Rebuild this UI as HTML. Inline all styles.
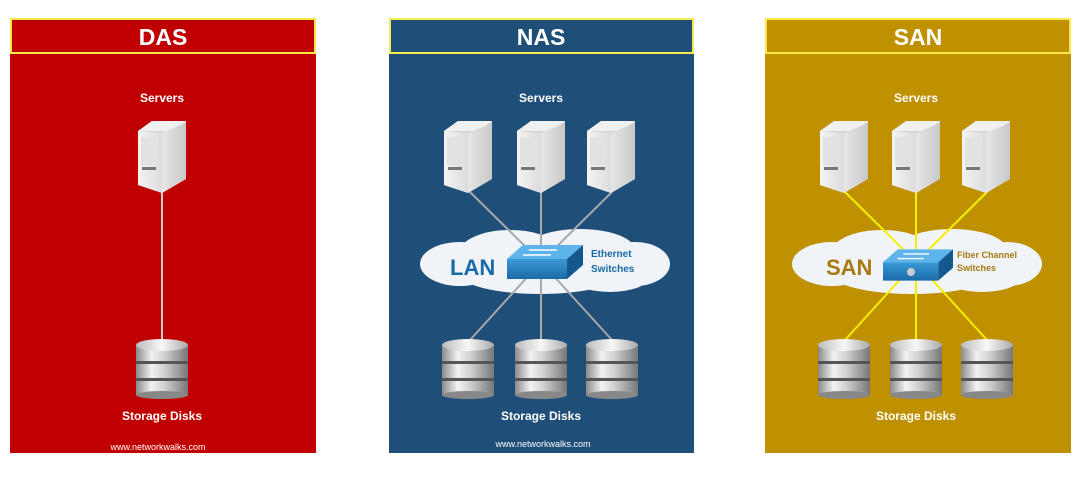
<!DOCTYPE html>
<html><head><meta charset="utf-8"><style>
html,body{margin:0;padding:0;background:#fff;width:1088px;height:482px;overflow:hidden}
svg text{font-family:"Liberation Sans",sans-serif}
</style></head><body>
<svg width="1088" height="482" viewBox="0 0 1088 482" xmlns="http://www.w3.org/2000/svg">
<defs>
<linearGradient id="sf" x1="0" x2="1"><stop offset="0" stop-color="#f4f4f4"/><stop offset="1" stop-color="#dcdcdc"/></linearGradient>
<linearGradient id="ss" x1="0" x2="1"><stop offset="0" stop-color="#e6e6e6"/><stop offset="1" stop-color="#c8c8c8"/></linearGradient>
<linearGradient id="dk" x1="0" x2="1"><stop offset="0" stop-color="#8a8a8a"/><stop offset="0.3" stop-color="#f2f2f2"/><stop offset="0.55" stop-color="#d0d0d0"/><stop offset="1" stop-color="#777"/></linearGradient>
<linearGradient id="dt" x1="0" x2="1"><stop offset="0" stop-color="#bbb"/><stop offset="0.5" stop-color="#f8f8f8"/><stop offset="1" stop-color="#aaa"/></linearGradient>
<linearGradient id="sw" x1="0" y1="0" x2="0" y2="1"><stop offset="0" stop-color="#3a9ad8"/><stop offset="1" stop-color="#1a6aa8"/></linearGradient>
<symbol id="srv" viewBox="0 0 48 72">
<polygon points="0,10 14,0 48,0 48,58 24,72 0,64" fill="#d4d4d4"/>
<polygon points="0,10 14,0 48,0 34,10" fill="#f0f0f0"/>
<polygon points="0,10 24,12 24,72 0,64" fill="url(#sf)"/>
<polygon points="24,12 48,2 48,58 24,72" fill="url(#ss)"/>
<rect x="3" y="16" width="17" height="28" fill="#e2e2e2"/>
<rect x="4" y="46" width="14" height="3" fill="#777"/>
</symbol>
<symbol id="dsk" viewBox="0 0 52 60">
<rect x="0" y="6" width="52" height="50" fill="url(#dk)"/>
<ellipse cx="26" cy="56" rx="26" ry="4" fill="#888"/>
<rect x="0" y="22" width="52" height="3" fill="#555"/>
<rect x="0" y="39" width="52" height="3" fill="#555"/>
<ellipse cx="26" cy="6" rx="26" ry="6" fill="url(#dt)"/>
</symbol>
<symbol id="cloud" viewBox="0 0 250 66">
<g fill="#f0f4f8">
<ellipse cx="40" cy="36" rx="40" ry="22"/><ellipse cx="90" cy="24" rx="50" ry="22"/><ellipse cx="160" cy="22" rx="55" ry="21"/>
<ellipse cx="215" cy="36" rx="35" ry="22"/><ellipse cx="120" cy="46" rx="80" ry="20"/><ellipse cx="190" cy="48" rx="40" ry="16"/>
</g></symbol>
<symbol id="sw1" viewBox="0 0 76 34">
<polygon points="0,14 16,0 76,0 60,14" fill="#5cb4ea"/>
<polygon points="0,14 60,14 60,34 0,34" fill="url(#sw)"/>
<polygon points="60,14 76,0 76,20 60,34" fill="#14588e"/>
<g stroke="#fff" stroke-width="1.5"><line x1="22" y1="5" x2="50" y2="5"/><line x1="16" y1="10" x2="44" y2="10"/></g>
</symbol>
</defs>

<!-- DAS -->
<rect x="10" y="18" width="306" height="435" fill="#c00000"/>
<rect x="11" y="19" width="304" height="34" fill="#c00000" stroke="#f7e94a" stroke-width="2"/>
<text x="163" y="45" fill="#fff" font-size="23" font-weight="bold" text-anchor="middle">DAS</text>
<text x="162" y="102" fill="#fff" font-size="12" font-weight="bold" text-anchor="middle">Servers</text>
<line x1="162" y1="190" x2="162" y2="342" stroke="#ccc" stroke-width="2"/>
<use href="#srv" x="138" y="121" width="48" height="72"/>
<use href="#dsk" x="136" y="339" width="52" height="60"/>
<text x="162" y="420" fill="#fff" font-size="12" font-weight="bold" text-anchor="middle">Storage Disks</text>
<text x="158" y="450" fill="#fff" font-size="9" text-anchor="middle">www.networkwalks.com</text>

<!-- NAS -->
<rect x="389" y="18" width="305" height="435" fill="#1f4e79"/>
<rect x="390" y="19" width="303" height="34" fill="#1f4e79" stroke="#f7e94a" stroke-width="2"/>
<text x="541" y="45" fill="#fff" font-size="23" font-weight="bold" text-anchor="middle">NAS</text>
<text x="541" y="102" fill="#fff" font-size="12" font-weight="bold" text-anchor="middle">Servers</text>
<use href="#cloud" x="420" y="228" width="250" height="66"/>
<g stroke="#a8a8a8" stroke-width="2">
<line x1="470" y1="192" x2="541" y2="262"/><line x1="541" y1="192" x2="541" y2="262"/><line x1="612" y1="192" x2="541" y2="262"/>
<line x1="470" y1="340" x2="541" y2="262"/><line x1="541" y1="340" x2="541" y2="262"/><line x1="612" y1="340" x2="541" y2="262"/>
</g>
<use href="#srv" x="444" y="121" width="48" height="72"/>
<use href="#srv" x="517" y="121" width="48" height="72"/>
<use href="#srv" x="587" y="121" width="48" height="72"/>
<use href="#sw1" x="507" y="245" width="76" height="34"/>
<text x="450" y="275" fill="#1a6aa8" font-size="22" font-weight="bold">LAN</text>
<text x="591" y="257" fill="#1a6aa8" font-size="10" font-weight="bold">Ethernet</text>
<text x="591" y="272" fill="#1a6aa8" font-size="10" font-weight="bold">Switches</text>
<use href="#dsk" x="442" y="339" width="52" height="60"/>
<use href="#dsk" x="515" y="339" width="52" height="60"/>
<use href="#dsk" x="586" y="339" width="52" height="60"/>
<text x="541" y="420" fill="#fff" font-size="12" font-weight="bold" text-anchor="middle">Storage Disks</text>
<text x="543" y="447" fill="#fff" font-size="9" text-anchor="middle">www.networkwalks.com</text>

<!-- SAN -->
<rect x="765" y="18" width="306" height="435" fill="#bf9000"/>
<rect x="766" y="19" width="304" height="34" fill="#bf9000" stroke="#f7e94a" stroke-width="2"/>
<text x="918" y="45" fill="#fff" font-size="23" font-weight="bold" text-anchor="middle">SAN</text>
<text x="916" y="102" fill="#fff" font-size="12" font-weight="bold" text-anchor="middle">Servers</text>
<use href="#cloud" x="792" y="228" width="250" height="66"/>
<g stroke="#f5f000" stroke-width="2">
<line x1="845" y1="192" x2="916" y2="262"/><line x1="916" y1="192" x2="916" y2="262"/><line x1="987" y1="192" x2="916" y2="262"/>
<line x1="845" y1="340" x2="916" y2="262"/><line x1="916" y1="340" x2="916" y2="262"/><line x1="987" y1="340" x2="916" y2="262"/>
</g>
<use href="#srv" x="820" y="121" width="48" height="72"/>
<use href="#srv" x="892" y="121" width="48" height="72"/>
<use href="#srv" x="962" y="121" width="48" height="72"/>
<use href="#sw1" x="883" y="245" width="70" height="40"/>
<circle cx="911" cy="272" r="4" fill="#ccc"/>
<text x="826" y="275" fill="#a87a10" font-size="22" font-weight="bold">SAN</text>
<text x="957" y="258" fill="#a87a10" font-size="9" font-weight="bold">Fiber Channel</text>
<text x="957" y="271" fill="#a87a10" font-size="9" font-weight="bold">Switches</text>
<use href="#dsk" x="818" y="339" width="52" height="60"/>
<use href="#dsk" x="890" y="339" width="52" height="60"/>
<use href="#dsk" x="961" y="339" width="52" height="60"/>
<text x="916" y="420" fill="#fff" font-size="12" font-weight="bold" text-anchor="middle">Storage Disks</text>
</svg>
</body></html>
